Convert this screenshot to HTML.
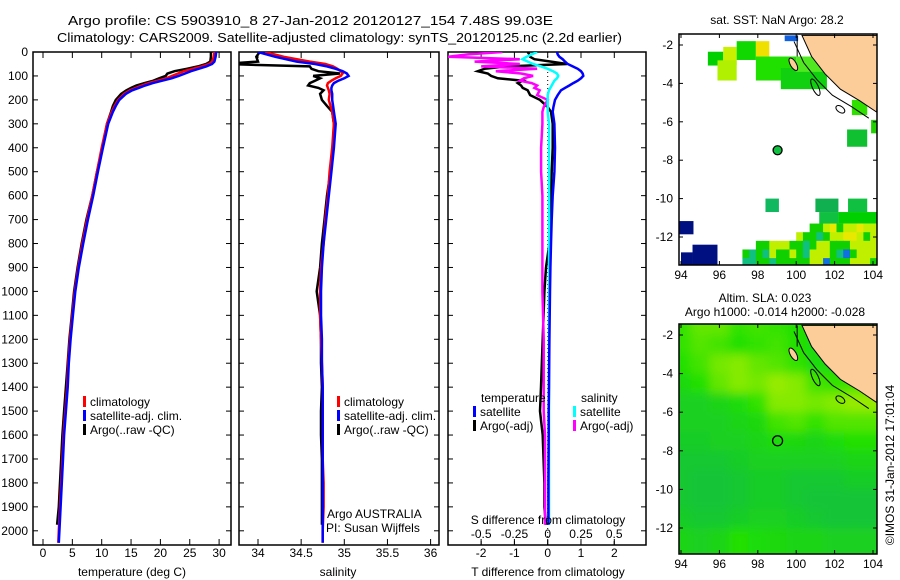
<!DOCTYPE html>
<html><head><meta charset="utf-8"><style>
html,body{margin:0;padding:0;background:#fff;}
svg{display:block;font-family:"Liberation Sans",sans-serif;}
</style></head><body>
<svg id="fig" width="900" height="580" viewBox="0 0 900 580" xmlns="http://www.w3.org/2000/svg">
<defs>
<clipPath id="c1"><rect x="33" y="52" width="198" height="493"/></clipPath>
<clipPath id="c2"><rect x="239" y="52" width="200" height="493"/></clipPath>
<clipPath id="c3"><rect x="448" y="52" width="198" height="493"/></clipPath>
<clipPath id="cm1"><rect x="679" y="34" width="198" height="231"/></clipPath>
<clipPath id="cm2"><rect x="679" y="324" width="198" height="230"/></clipPath>
<filter id="blur" x="-10%" y="-10%" width="120%" height="120%"><feGaussianBlur stdDeviation="5"/></filter>
</defs>
<g id="root"></g>
</svg>
<script>
// ---------- data ----------
const depthT = [0,20,40,50,60,70,80,90,100,110,120,130,140,150,160,175,200,225,250,300,400,500,600,700,800,900,1000,1100,1200,1300,1400,1500,1600,1700,1800,1900,2000,2050];
const tempClim = [29.2,29.1,28.8,28.3,27,25.5,24,23,22,21,19.5,18,16.8,15.8,14.8,13.8,12.8,12.2,11.7,10.9,10.0,9.2,8.4,7.5,6.7,6.0,5.4,5.0,4.6,4.3,4.1,3.8,3.5,3.3,3.1,2.9,2.7,2.6];
const tempSat  = [29.5,29.4,29.2,28.8,27.8,26.5,25.2,24.2,23.1,21.9,20.3,18.7,17.4,16.3,15.2,14.1,13.0,12.4,11.9,11.1,10.2,9.35,8.55,7.65,6.85,6.1,5.5,5.1,4.7,4.4,4.2,3.9,3.6,3.4,3.2,3.0,2.8,2.7];
const depthA = [0,20,40,50,60,70,80,90,100,110,120,130,140,150,160,175,200,225,250,300,400,500,600,700,800,900,1000,1100,1200,1300,1400,1500,1600,1700,1800,1900,1975];
const tempArgo = [28.6,28.6,28.5,27.8,26.4,24.5,22.4,21.2,20.9,19.8,18.8,17.3,15.9,15.0,14.2,13.3,12.4,11.9,11.6,10.9,10.1,9.2,8.4,7.4,6.6,5.9,5.3,4.9,4.5,4.2,3.9,3.6,3.3,3.1,2.9,2.7,2.4];
const salClim = [34.08,34.3,34.6,34.78,34.87,34.92,34.96,34.98,34.96,34.9,34.85,34.81,34.8,34.81,34.82,34.83,34.82,34.84,34.86,34.88,34.86,34.83,34.81,34.78,34.76,34.73,34.72,34.72,34.73,34.74,34.75,34.75,34.75,34.75,34.76,34.76,34.75,34.75];
const salSat  = [34.0,34.2,34.45,34.66,34.8,34.9,34.98,35.03,35.05,35.0,34.93,34.88,34.86,34.85,34.85,34.86,34.86,34.87,34.88,34.9,34.88,34.85,34.82,34.79,34.76,34.74,34.73,34.73,34.74,34.74,34.75,34.75,34.75,34.75,34.75,34.75,34.75,34.75];
const salArgo = [34.02,33.98,34.0,33.6,34.6,34.62,34.7,34.95,34.64,34.72,34.66,34.6,34.58,34.7,34.76,34.72,34.74,34.8,34.86,34.88,34.87,34.84,34.8,34.77,34.74,34.72,34.68,34.72,34.73,34.73,34.74,34.73,34.73,34.74,34.74,34.74,34.74];
const depthD = [0,10,20,30,40,50,60,70,80,90,100,110,120,130,140,150,160,180,200,230,250,300,400,500,600,700,800,900,1000,1200,1400,1500,1600,1800,1900,1975];
const dTsat  = [0.28,0.3,0.35,0.45,0.52,0.6,0.75,0.9,1.0,1.05,1.07,1.0,0.9,0.77,0.65,0.52,0.4,0.3,0.22,0.17,0.15,0.2,0.22,0.2,0.15,0.12,0.1,0.08,0.07,0.05,0.04,0.03,0.03,0.02,0.02,0.02];
const dTargo = [-0.6,-0.55,-0.53,-0.4,0.1,0.58,-1.2,-1.9,-2.1,-1.8,-1.7,-1.5,-0.75,-0.9,-0.8,-0.75,-0.6,-0.53,-0.23,0.0,0.1,0.15,0.15,0.12,0.1,0.1,0.05,-0.05,-0.1,-0.15,-0.2,-0.23,-0.15,-0.1,-0.1,-0.05];
const dSsat  = [-0.08,-0.12,-0.16,-0.19,-0.15,-0.11,-0.05,0.0,0.04,0.07,0.08,0.07,0.05,0.04,0.03,0.02,0.01,0.0,0.0,0.0,0.0,0.01,0.01,0.01,0.01,0.01,0.01,0.01,0.01,0.01,0.01,0.01,0.01,0.01,0.01,0.01];
const dSargo = [-0.34,-0.6,-0.75,-0.21,-0.55,-0.21,-0.5,-0.08,-0.39,-0.2,-0.11,-0.18,-0.21,-0.12,-0.08,-0.1,-0.06,-0.08,0.0,-0.03,-0.04,-0.04,-0.05,-0.05,-0.04,-0.04,-0.04,-0.04,-0.04,-0.03,-0.03,-0.03,-0.02,-0.02,-0.02,-0.02];
const depthTicks = [0,100,200,300,400,500,600,700,800,900,1000,1100,1200,1300,1400,1500,1600,1700,1800,1900,2000];
const tempTicks = [0,5,10,15,20,25,30];
const salTicks = [34,34.5,35,35.5,36];
const dTTicks = [-2,-1,0,1,2];
const dSTicks = [-0.5,-0.25,0,0.25,0.5];
const dSTickLabels = ["-0.5","-0.25","0","0.25","0.5"];
const lonTicks = [94,96,98,100,102,104];
const latTicks = [-2,-4,-6,-8,-10,-12];
const sstCells = [
 [99.4,-1.5,100.1,-1.8,"#1060e0"],[95.4,-2.35,96.2,-3.07,"#00d000"],[96.2,-2.1,96.9,-3.05,"#c8f000"],
 [96.9,-1.8,97.9,-2.78,"#10d800"],[97.9,-1.8,98.6,-2.6,"#f0e000"],[95.9,-2.8,96.9,-3.85,"#b0f000"],
 [97.9,-2.6,100,-3.85,"#20e000"],[99.2,-3.2,101.6,-4.3,"#10d010"],[100,-2.6,102,-3.4,"#50e820"],
 [102.9,-4.86,103.7,-5.65,"#30e000"],[103.9,-5.9,104.2,-6.6,"#20d000"],[102.65,-6.4,103.7,-7.3,"#10c030"],
 [93.9,-11.17,94.65,-11.86,"#001080"],[98.4,-10.0,99.1,-10.7,"#10b860"],
 [101.0,-10.0,102.2,-10.7,"#10b050"],[102.7,-10.0,103.7,-10.7,"#10c040"],[102.2,-10.7,104.2,-11.3,"#00d000"],
 [101.2,-10.7,102.2,-11.6,"#10c040"],[94.0,-12.8,94.6,-13.5,"#001080"],[94.6,-12.4,95.9,-13.5,"#001080"]
];
const sstMixRows = [
 "..........ggyYgyyYyy",
 "........yggtgyyYYygy",
 "..ggyyyggtgyygggyyyy",
 "gtgtyggygtyyygtbgyyy",
 "ttggtgggggyybgggyyyg"
];
const slaGrid = [
 [.55,.7,.7,.55,.6,.55,.5,.45,.5,.5,.5],
 [.55,.65,.6,.5,.55,.6,.5,.45,.4,.4,.4],
 [.5,.6,.75,.8,.7,.65,.55,.45,.45,.4,.4],
 [.4,.5,.7,.8,.75,.85,.8,.6,.55,.6,.6],
 [.3,.3,.35,.45,.55,.8,.8,.75,.8,.85,.85],
 [.3,.3,.3,.35,.4,.6,.65,.55,.65,.65,.65],
 [.25,.25,.3,.3,.35,.45,.4,.35,.45,.5,.5],
 [.2,.2,.2,.25,.3,.3,.3,.3,.3,.35,.35],
 [.2,.15,.15,.2,.25,.25,.2,.2,.2,.25,.25],
 [.2,.15,.15,.2,.25,.25,.2,.15,.15,.15,.15],
 [.25,.2,.2,.25,.3,.3,.25,.2,.15,.15,.15],
 [.35,.3,.35,.5,.45,.4,.35,.35,.3,.3,.3]
];
const coastLon = [100.3,100.8,101.5,102.3,103.3,104.2];
const coastLat = [-1.5,-2.6,-3.5,-4.3,-4.9,-5.5];
const argoLon = 99.03, argoLat = -7.48;

// ---------- helpers ----------
const NS="http://www.w3.org/2000/svg";
const root=document.getElementById('root');
function mk(tag,attrs,parent){const e=document.createElementNS(NS,tag);for(const k in attrs)e.setAttribute(k,attrs[k]);(parent||root).appendChild(e);return e;}
function txt(x,y,s,attrs,parent){const e=mk('text',Object.assign({x:x,y:y,'font-size':12,fill:'#000'},attrs||{}),parent);e.textContent=s;return e;}
const yD = d => 52 + d*0.2394;
const xT = t => 43 + t*5.87;
const xS = s => 258 + (s-34)*86.3;
const xDT = t => 547.7 + t*33.3;
const xDS = s => 547.7 + s*133;
const mx = lon => 681 + (lon-94)*19.2;
const my1 = lat => 45 + (-2-lat)*19.2;
const my2 = lat => 335 + (-2-lat)*19.3;

function frame(x0,x1,name){
  const r=mk('rect',{x:x0,y:52,width:x1-x0,height:493,fill:'none',stroke:'#000','stroke-width':1.5});
  
  
}
function line(xs,ds,xf,col,clip,name,w){
  const pts=xs.map((v,i)=>xf(v).toFixed(1)+','+yD(ds[i]).toFixed(1)).join(' ');
  const p=mk('polyline',{points:pts,fill:'none',stroke:col,'stroke-width':w||2.5,'clip-path':'url(#'+clip+')','stroke-linejoin':'miter'});
  
  
}
function xticks(ticks,labels,xf,x0,x1,yLab,top){
  ticks.forEach((t,i)=>{
    const x=xf(t);
    mk('line',{x1:x,y1:545,x2:x,y2:539,stroke:'#000'});
    if(top) mk('line',{x1:x,y1:52,x2:x,y2:58,stroke:'#000'});
    if(yLab){const l=txt(x,yLab,labels[i],{'text-anchor':'middle'});
      
      }
  });
}
function legend(x,y,items){
  items.forEach((it,i)=>{
    const yy=y+i*14;
    mk('rect',{x:x,y:yy-10,width:3,height:11,fill:it[1]});
    const l=txt(x+7,yy,it[0]);
    
    
  });
}

// ---------- titles ----------
let t1=txt(68,25,"Argo profile: CS 5903910_8 27-Jan-2012 20120127_154 7.48S 99.03E",{'font-size':13,textLength:485,lengthAdjust:'spacingAndGlyphs'});


let t2=txt(57,42,"Climatology: CARS2009. Satellite-adjusted climatology: synTS_20120125.nc (2.2d earlier)",{'font-size':13,textLength:565,lengthAdjust:'spacingAndGlyphs'});



// ---------- depth axis ----------
depthTicks.forEach(d=>{
  const y=yD(d);
  const l=txt(28,y+4,String(d),{'text-anchor':'end'});
  
  
  [[33,38],[226,231],[239,244],[434,439],[448,453],[641,646]].forEach(p=>mk('line',{x1:p[0],y1:y,x2:p[1],y2:y,stroke:'#000'}));
});

// ---------- panel 1 ----------
frame(33,231,'temperature-panel');
xticks(tempTicks,tempTicks.map(String),xT,33,231,557,true);
line(tempArgo,depthA,xT,'#000','c1','temp-argo-line',2.5);
line(tempClim,depthT,xT,'#f00','c1','temp-climatology-line',2.5);
line(tempSat,depthT,xT,'#00f','c1','temp-satellite-line',2.5);
legend(83,406,[["climatology","#f00"],["satellite-adj. clim.","#00f"],["Argo(..raw -QC)","#000"]]);
let xl1=txt(132,576,"temperature (deg C)",{'text-anchor':'middle'});



// ---------- panel 2 ----------
frame(239,439,'salinity-panel');
xticks(salTicks,salTicks.map(String),xS,239,439,557,true);
line(salArgo,depthA,xS,'#000','c2','sal-argo-line',2.5);
line(salClim,depthT,xS,'#f00','c2','sal-climatology-line',2.5);
line(salSat,depthT,xS,'#00f','c2','sal-satellite-line',2.5);
legend(337,406,[["climatology","#f00"],["satellite-adj. clim.","#00f"],["Argo(..raw -QC)","#000"]]);
let a1=txt(327,518,"Argo AUSTRALIA");


let a2=txt(326,532,"PI: Susan Wijffels");


let xl2=txt(338,576,"salinity",{'text-anchor':'middle'});



// ---------- panel 3 ----------
frame(448,646,'difference-panel');
xticks(dTTicks,dTTicks.map(String),xDT,448,646,557,true);
dSTicks.forEach((s,i)=>{const x=xDS(s);mk('line',{x1:x,y1:541,x2:x,y2:545,stroke:'#000'});
  const l=txt(x,538,dSTickLabels[i],{'text-anchor':'middle'});
  
  });
mk('line',{x1:xDT(0),y1:52,x2:xDT(0),y2:545,stroke:'#000','stroke-dasharray':'1,3'});
line(dTargo,depthD,xDT,'#000','c3','t-diff-argo-line',2.5);
line(dSargo,depthD,xDS,'#f0f','c3','s-diff-argo-line',2.5);
line(dSsat,depthD,xDS,'#0ff','c3','s-diff-satellite-line',2.5);
line(dTsat,depthD,xDT,'#00f','c3','t-diff-satellite-line',2.5);
let lt=txt(481,402,"temperature");


let ls=txt(581,402,"salinity");


legend(473,416,[["satellite","#00f"],["Argo(-adj)","#000"]]);
legend(573,416,[["satellite","#0ff"],["Argo(-adj)","#f0f"]]);
let st=txt(548,524,"S difference from climatology",{'text-anchor':'middle'});


let tt=txt(548,576,"T difference from climatology",{'text-anchor':'middle'});



// ---------- maps ----------
function mapAxes(top,bot,myf,name){
  const r=mk('rect',{x:679,y:top,width:198,height:bot-top,fill:'none',stroke:'#000','stroke-width':1.5});
  
  
  lonTicks.forEach(l=>{const x=mx(l);mk('line',{x1:x,y1:top,x2:x,y2:top+4,stroke:'#000'});mk('line',{x1:x,y1:bot,x2:x,y2:bot-4,stroke:'#000'});
    const e=txt(x,bot+14,String(l),{'text-anchor':'middle'});
    
    });
  latTicks.forEach(l=>{const y=myf(l);mk('line',{x1:679,y1:y,x2:683,y2:y,stroke:'#000'});mk('line',{x1:877,y1:y,x2:873,y2:y,stroke:'#000'});
    const e=txt(673,y+4,String(l),{'text-anchor':'end'});
    
    });
}
function land(myf,clip,name){
  const pts=coastLon.map((l,i)=>mx(l).toFixed(1)+','+myf(coastLat[i]).toFixed(1));
  pts.push(mx(104.3)+','+myf(-1.5));
  const p=mk('polygon',{points:pts.join(' '),fill:'#fccc99',stroke:'#000','stroke-width':1,'clip-path':'url(#'+clip+')'});
  
  
  const sh=mk('polyline',{points:coastLon.map((l,i)=>(mx(l)-8).toFixed(1)+','+(myf(coastLat[i])+6).toFixed(1)).join(' '),fill:'none',stroke:'#000','stroke-width':1,'clip-path':'url(#'+clip+')'});
  
  
  mk('line',{x1:mx(100.05),y1:myf(-1.5),x2:mx(100.05),y2:myf(-2.6),stroke:'#000'});
  const is=mk('ellipse',{cx:mx(99.85),cy:myf(-3.0),rx:3,ry:7,fill:'#fccc99',stroke:'#000',transform:'rotate(-30 '+mx(99.85)+' '+myf(-3.0)+')'});
  
  
  mk('ellipse',{cx:mx(101.0),cy:myf(-4.2),rx:3,ry:9,fill:'none',stroke:'#000',transform:'rotate(-25 '+mx(101.0)+' '+myf(-4.2)+')'});
  mk('ellipse',{cx:mx(102.3),cy:myf(-5.35),rx:5,ry:3,fill:'none',stroke:'#000',transform:'rotate(35 '+mx(102.3)+' '+myf(-5.35)+')'});
}
// top SST map
let mt1=txt(777,24,"sat. SST: NaN Argo: 28.2",{'text-anchor':'middle'});


const g1=mk('g',{'clip-path':'url(#cm1)'});
sstCells.forEach(c=>{const r=mk('rect',{x:mx(c[0]),y:my1(c[1]),width:mx(c[2])-mx(c[0]),height:my1(c[3])-my1(c[1]),fill:c[4]},g1);
  
  });
const mixCol={g:"#10d000",y:"#c0f000",Y:"#e8e800",t:"#10c080",b:"#1070e0"};
sstMixRows.forEach((row,ri)=>{[...row].forEach((ch,ci)=>{if(ch==='.')return;
  const lon=97.2+ci*0.35, lat=-11.3-ri*0.45;
  const r=mk('rect',{x:mx(lon),y:my1(lat),width:0.35*19.2+0.5,height:0.45*19.2+0.5,fill:mixCol[ch]},g1);
  
  });});
land(my1,'cm1','land-sumatra-sst');
let ap1=mk('circle',{cx:mx(argoLon),cy:my1(argoLat),r:4.5,fill:'#10c040',stroke:'#000','stroke-width':1.3});


mapAxes(34,265,my1,'sst-map-frame');

// bottom SLA map
let mt2=txt(765,302,"Altim. SLA: 0.023",{'text-anchor':'middle'});


let mt3=txt(775,316,"Argo h1000: -0.014 h2000: -0.028",{'text-anchor':'middle'});


function slaColor(v){const a=[16,184,80],b=[32,224,0],c=[200,240,0];let p,q,t;
  if(v<0.5){p=a;q=b;t=v/0.5;}else{p=b;q=c;t=(v-0.5)/0.5;}
  return 'rgb('+p.map((x,i)=>Math.round(x+(q[i]-x)*t)).join(',')+')';}
const g2w=mk('g',{'clip-path':'url(#cm2)'});
const g2=mk('g',{filter:'url(#blur)'},g2w);
const nR=slaGrid.length, nC=slaGrid[0].length;
for(let ri=-2; ri<nR+2; ri++){
  for(let ci=-2; ci<nC+2; ci++){
    const v=slaGrid[Math.min(nR-1,Math.max(0,ri))][Math.min(nC-1,Math.max(0,ci))];
    const lon=93.5+ci, lat=-1-ri;
    const r=mk('rect',{x:mx(lon),y:my2(lat),width:19.8,height:19.9,fill:slaColor(v)},g2);
    
    
  }
}
land(my2,'cm2','land-sumatra-sla');
let ap2=mk('circle',{cx:mx(argoLon),cy:my2(argoLat),r:5,fill:'none',stroke:'#000','stroke-width':1.3});


mapAxes(324,554,my2,'sla-map-frame');

let cr=txt(0,0,"©IMOS 31-Jan-2012 17:01:04",{'text-anchor':'middle',transform:'translate(894,465) rotate(-90)'});


</script>
</body></html>
